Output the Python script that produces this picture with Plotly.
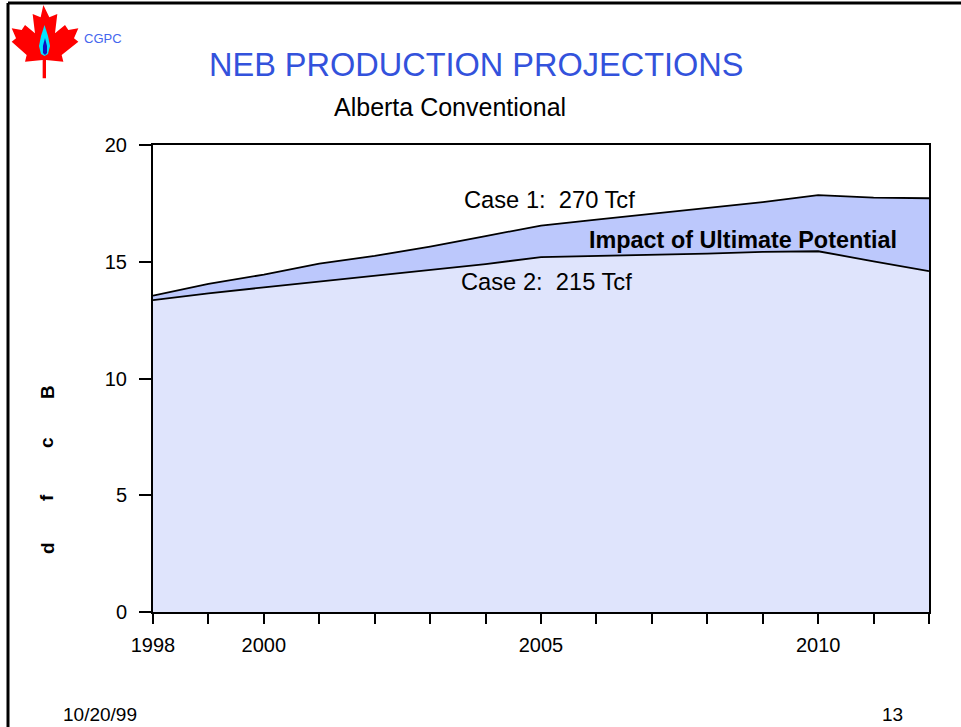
import plotly.graph_objects as go

# Alberta conventional gas production projections (Bcf/d)
years = list(range(1998, 2013))
case1_270 = [13.55, 14.05, 14.45, 14.92, 15.25, 15.65, 16.1, 16.55, 16.8, 17.05, 17.3, 17.55, 17.85, 17.75, 17.72]
case2_215 = [13.36, 13.65, 13.9, 14.15, 14.4, 14.65, 14.9, 15.2, 15.25, 15.28, 15.35, 15.42, 15.45, 15.02, 14.6]

x_ticks = years
x_tick_labels = ["1998", "", "2000", "", "", "", "", "2005", "", "", "", "", "2010", "", ""]
y_ticks = [0, 5, 10, 15, 20]

W, H = 961, 727
L, R, T, B = 153, 929, 145, 612
FONT = "Arial, Liberation Sans, sans-serif"


def px_to_paper(x, y):
    return (x - L) / (R - L), (B - y) / (B - T)


def path_from_px(points):
    parts = []
    for i, (x, y) in enumerate(points):
        px, py = px_to_paper(x, y)
        parts.append(("M" if i == 0 else "L") + f"{px:.4f},{py:.4f}")
    return " ".join(parts) + " Z"


fig = go.Figure()
fig.add_trace(go.Scatter(x=years, y=case2_215, mode="lines", fill="tozeroy",
                         fillcolor="#dfe4fc", line=dict(color="black", width=1.8),
                         name="Case 2: 215 Tcf"))
fig.add_trace(go.Scatter(x=years, y=case1_270, mode="lines", fill="tonexty",
                         fillcolor="#bcc8fc", line=dict(color="black", width=1.8),
                         name="Case 1: 270 Tcf"))

axis_common = dict(showgrid=False, zeroline=False, showline=True, linecolor="black",
                   linewidth=2, mirror=True, ticks="outside", tickcolor="black",
                   tickwidth=2, tickfont=dict(family=FONT, size=20, color="black"))
fig.update_xaxes(range=[1998, 2012], tickvals=x_ticks, ticktext=x_tick_labels,
                 ticklen=10, ticklabelstandoff=4, **axis_common)
fig.update_yaxes(range=[0, 20], tickvals=y_ticks, ticklen=12, ticklabelstandoff=8,
                 **axis_common)

annotations = [
    dict(text="NEB PRODUCTION PROJECTIONS", x=476, y=65, size=32.5, color="#3352dc"),
    dict(text="Alberta Conventional", x=450, y=107, size=25, color="black"),
    dict(text="Case 1:  270 Tcf", x=549, y=200, size=23.7, color="black"),
    dict(text="Case 2:  215 Tcf", x=546, y=282, size=23.7, color="black"),
    dict(text="<b>Impact of Ultimate Potential</b>", x=743, y=240, size=23.4, color="black"),
    dict(text="10/20/99", x=100, y=714, size=19, color="black"),
    dict(text="13", x=892, y=714, size=19, color="black"),
    dict(text="CGPC", x=103, y=38, size=13, color="#4466ee"),
]
ann = []
for a in annotations:
    ax, ay = px_to_paper(a["x"], a["y"])
    ann.append(dict(text=a["text"], x=ax, y=ay, xref="paper", yref="paper",
                    showarrow=False, xanchor="center", yanchor="middle",
                    font=dict(family=FONT, size=a["size"], color=a["color"])))

# y-axis title letters, stacked and rotated as on the slide
for ch, py in [("d", 548), ("f", 498), ("c", 443), ("B", 392)]:
    ax, ay = px_to_paper(47, py)
    ann.append(dict(text=f"<b>{ch}</b>", x=ax, y=ay, xref="paper", yref="paper",
                    showarrow=False, textangle=-90, xanchor="center", yanchor="middle",
                    font=dict(family=FONT, size=19, color="black")))

# slide decoration: border lines and maple leaf logo
leaf = [(130, 15), (148, 52), (172, 42), (165, 100), (195, 75), (205, 90), (235, 85),
        (222, 115), (235, 125), (185, 165), (190, 185), (138, 180), (138, 235),
        (128, 235), (128, 180), (75, 185), (80, 165), (35, 125), (48, 115), (35, 85),
        (65, 90), (75, 75), (105, 100), (98, 42), (122, 52)]
leaf = [(x / 3, y / 3) for x, y in leaf]
flame = [(44.5, 25), (48, 36), (50, 46), (48, 54), (44.5, 56), (41, 54), (39, 46), (41, 36)]
core = [(45, 38), (47, 46), (47, 53), (45, 55), (43, 53), (43, 46)]

x0, y0 = px_to_paper(8, 3)
x1, _ = px_to_paper(961, 3)
_, y2 = px_to_paper(8, 727)
shapes = [
    dict(type="line", xref="paper", yref="paper", x0=x0, y0=y0, x1=x1, y1=y0,
         line=dict(color="black", width=3)),
    dict(type="line", xref="paper", yref="paper", x0=x0, y0=y0, x1=x0, y1=y2,
         line=dict(color="black", width=3)),
    dict(type="path", xref="paper", yref="paper", path=path_from_px(leaf),
         fillcolor="#ff0000", line=dict(width=0)),
    dict(type="path", xref="paper", yref="paper", path=path_from_px(flame),
         fillcolor="#00e5ff", line=dict(width=0)),
    dict(type="path", xref="paper", yref="paper", path=path_from_px(core),
         fillcolor="#1010c0", line=dict(width=0)),
]

fig.update_layout(width=W, height=H, margin=dict(l=L, r=W - R, t=T, b=H - B),
                  paper_bgcolor="white", plot_bgcolor="white", showlegend=False,
                  annotations=ann, shapes=shapes)

# the page is exactly the figure size, so drop the default body margin
fig.write_html("out.html", config={"displayModeBar": False},
               post_script="document.body.style.margin='0px';")
